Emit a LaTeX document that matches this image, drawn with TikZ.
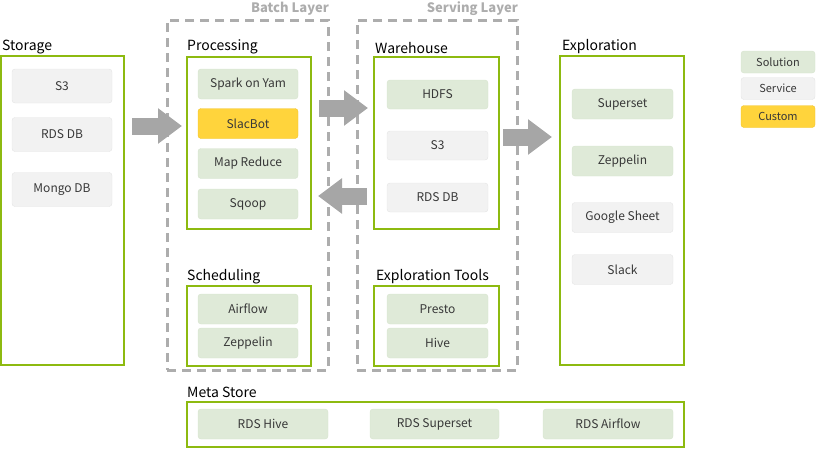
\documentclass[tikz,border=0pt]{standalone}
\usepackage{fontspec}
\setmainfont{Noto Sans CJK KR}
\usetikzlibrary{positioning}
\usetikzlibrary{arrows.meta}
\definecolor{frameg}{HTML}{8DBA10}
\definecolor{solfill}{HTML}{DFEAD8}
\definecolor{solline}{HTML}{D6E4CE}
\definecolor{srvfill}{HTML}{F2F2F2}
\definecolor{srvline}{HTML}{E4E4E4}
\definecolor{cusfill}{HTML}{FFD43C}
\definecolor{cusline}{HTML}{F2C42A}
\definecolor{txtgray}{HTML}{383838}
\definecolor{arrgray}{HTML}{A6A6A6}
\definecolor{dashgray}{HTML}{ADADAD}
\tikzset{
    mynodes/.style = {rectangle, rounded corners=3pt, draw=solline, fill=solfill, minimum width=100pt, minimum height=30pt, font=\fontsize{12}{14}\selectfont, text=txtgray},
    mynodev/.style = {mynodes, draw=srvline, fill=srvfill},
    mynodec/.style = {mynodes, draw=cusline, fill=cusfill},
    mylegend/.style = {minimum width=74pt, minimum height=22pt, font=\fontsize{11}{13}\selectfont},
    framen/.style = {rectangle, draw=frameg, line width=1.2pt, inner sep=0pt},
    framed/.style = {rectangle, draw=dashgray, line width=3pt, dash pattern=on 9pt off 6pt, inner sep=0pt},
    titlen/.style = {anchor=base west, inner sep=0pt, font=\fontsize{14}{16}\selectfont, text=black},
    titled/.style = {anchor=base east, inner sep=0pt, font=\bfseries\fontsize{13}{15}\selectfont, text=dashgray},
    edgea/.style = {-{Triangle[length=24pt,width=34pt]}, line width=17pt, draw=arrgray}
}
\begin{document}
\begin{tikzpicture}[x=1pt, y=-1pt]
  \useasboundingbox (0,0) rectangle (816,448);
  % layers
  \node[framed, minimum width=161pt, minimum height=350pt] (batch) at (247.5,195) {};
  \node[framed, minimum width=160pt, minimum height=350pt] (serving) at (437,195) {};
  \node[titled] (batcht) at (329,12) {Batch Layer};
  \node[titled] (servingt) at (518,12) {Serving Layer};
  % storage
  \node[titlen] (storaget) at (2,50) {Storage};
  \node[framen, minimum width=123pt, minimum height=309pt] (storage) at (62.4,210.5) {};
  \node[mynodev, minimum height=34pt] (st1) at (62,86) {S3};
  \node[mynodev, minimum height=34pt] (st2) at (62,134.5) {RDS DB};
  \node[mynodev, minimum height=34pt] (st3) at (62,189.5) {Mongo DB};
  % processing
  \node[titlen] (proct) at (187,50) {Processing};
  \node[framen, minimum width=124pt, minimum height=172pt] (proc) at (249,143) {};
  \node[mynodes] (pr1) at (248,84) {Spark on Yam};
  \node[mynodec] (pr2) at (248,123.5) {SlacBot};
  \node[mynodes] (pr3) at (248,163.5) {Map Reduce};
  \node[mynodes] (pr4) at (248,204) {Sqoop};
  % warehouse
  \node[titlen] (waret) at (375,53) {Warehouse};
  \node[framen, minimum width=125pt, minimum height=172pt] (ware) at (436.5,143) {};
  \node[mynodes, minimum width=101pt, minimum height=29pt] (wa1) at (437.5,94.5) {HDFS};
  \node[mynodev, minimum width=101pt, minimum height=29pt] (wa2) at (437.5,145.5) {S3};
  \node[mynodev, minimum width=101pt, minimum height=29pt] (wa3) at (437.5,197.5) {RDS DB};
  % exploration
  \node[titlen] (explt) at (562,50) {Exploration};
  \node[framen, minimum width=124pt, minimum height=309pt] (expl) at (622,210.5) {};
  \node[mynodes, minimum width=101pt] (ex1) at (622.5,104) {Superset};
  \node[mynodes, minimum width=101pt] (ex2) at (622.5,161) {Zeppelin};
  \node[mynodev, minimum width=101pt] (ex3) at (622.5,217.5) {Google Sheet};
  \node[mynodev, minimum width=101pt] (ex4) at (622.5,269.5) {Slack};
  % scheduling
  \node[titlen] (schedt) at (187,280) {Scheduling};
  \node[framen, minimum width=124pt, minimum height=80pt] (sched) at (249,326) {};
  \node[mynodes] (sc1) at (248,309) {Airflow};
  \node[mynodes] (sc2) at (248,343) {Zeppelin};
  % exploration tools
  \node[titlen] (toolst) at (376,280) {Exploration Tools};
  \node[framen, minimum width=125pt, minimum height=80pt] (tools) at (436.5,326) {};
  \node[mynodes, minimum width=101pt] (to1) at (437.5,309) {Presto};
  \node[mynodes, minimum width=101pt] (to2) at (437.5,343) {Hive};
  % meta store
  \node[titlen] (metat) at (187,397) {Meta Store};
  \node[framen, minimum width=497pt, minimum height=45pt] (meta) at (435.5,424.5) {};
  \node[mynodes, minimum width=130pt] (me1) at (263,424) {RDS Hive};
  \node[mynodes, minimum width=129pt] (me2) at (434.5,424) {RDS Superset};
  \node[mynodes, minimum width=130pt] (me3) at (608,424) {RDS Airflow};
  % legend
  \node[mynodes, mylegend] (lg1) at (778,62) {Solution};
  \node[mynodev, mylegend] (lg2) at (778,88.5) {Service};
  \node[mynodec, mylegend] (lg3) at (778,116.5) {Custom};
  % arrows
  \coordinate (a1s) at (132,126);
  \coordinate (a1e) at (182,126);
  \coordinate (a2s) at (319,108);
  \coordinate (a2e) at (368,108);
  \coordinate (a3s) at (367,196);
  \coordinate (a3e) at (318,196);
  \coordinate (a4s) at (503,137);
  \coordinate (a4e) at (552,137);
  \draw[edgea] (a1s) -- (a1e);
  \draw[edgea] (a2s) -- (a2e);
  \draw[edgea] (a3s) -- (a3e); % back
  \draw[edgea] (a4s) -- (a4e);
\end{tikzpicture}
\end{document}
